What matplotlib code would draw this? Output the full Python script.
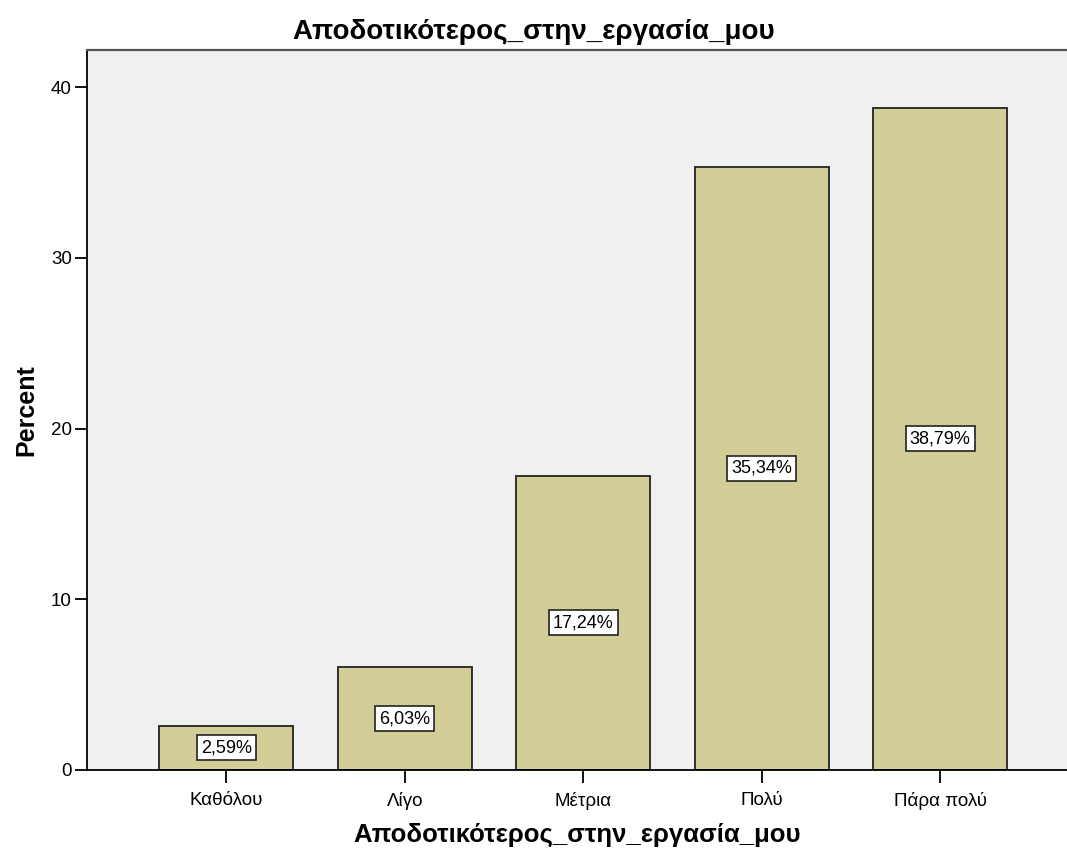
import matplotlib
matplotlib.use("Agg")
import matplotlib.pyplot as plt

categories = ["Καθόλου", "Λίγο", "Μέτρια", "Πολύ", "Πάρα πολύ"]
percents = [2.59, 6.03, 17.24, 35.34, 38.79]
value_labels = ["2,59%", "6,03%", "17,24%", "35,34%", "38,79%"]
y_ticks = [0, 10, 20, 30, 40]
title = "Αποδοτικότερος_στην_εργασία_μου"

plt.rcParams["font.family"] = ["Liberation Sans", "DejaVu Sans"]

fig = plt.figure(figsize=(10.67, 8.52), dpi=100)
ax = fig.add_axes([87 / 1067, 82 / 852, 1 - 87 / 1067, 720 / 852])
ax.set_facecolor("#F0F0F0")

x = list(range(len(categories)))
ax.bar(x, percents, width=0.75, color="#D3CE97", edgecolor="#222222",
       linewidth=1.3, zorder=2)

for xi, v, lab in zip(x, percents, value_labels):
    ax.text(xi, v / 2, lab, ha="center", va="center", fontsize=13, zorder=3,
            bbox=dict(boxstyle="square,pad=0.22", facecolor="white",
                      edgecolor="#222222", linewidth=1.2))

ax.set_xlim(-0.78, 4.71)
ax.set_ylim(0, 42.17)
ax.set_xticks(x)
ax.set_xticklabels(categories, fontsize=13.5)
ax.set_yticks(y_ticks)
ax.set_yticklabels([str(t) for t in y_ticks], fontsize=13.5)
ax.tick_params(axis="y", direction="out", length=9, width=1.3,
               color="black", pad=2)
ax.tick_params(axis="x", direction="out", length=9, width=1.3,
               color="black", pad=7)

for side in ["left", "bottom"]:
    ax.spines[side].set_color("black")
    ax.spines[side].set_linewidth(1.3)
ax.spines["top"].set_color("#555555")
ax.spines["top"].set_linewidth(1.6)
ax.spines["right"].set_visible(False)

# chart title is centred on the whole figure
fig.text(0.5, 1 - 32 / 852, title, ha="center", va="center",
         fontsize=20, fontweight="bold")
ax.set_xlabel(title, fontsize=18.5, fontweight="bold", labelpad=9)
ax.set_ylabel("Percent", fontsize=18, fontweight="bold", labelpad=9)

fig.savefig("out.png", dpi=100)
